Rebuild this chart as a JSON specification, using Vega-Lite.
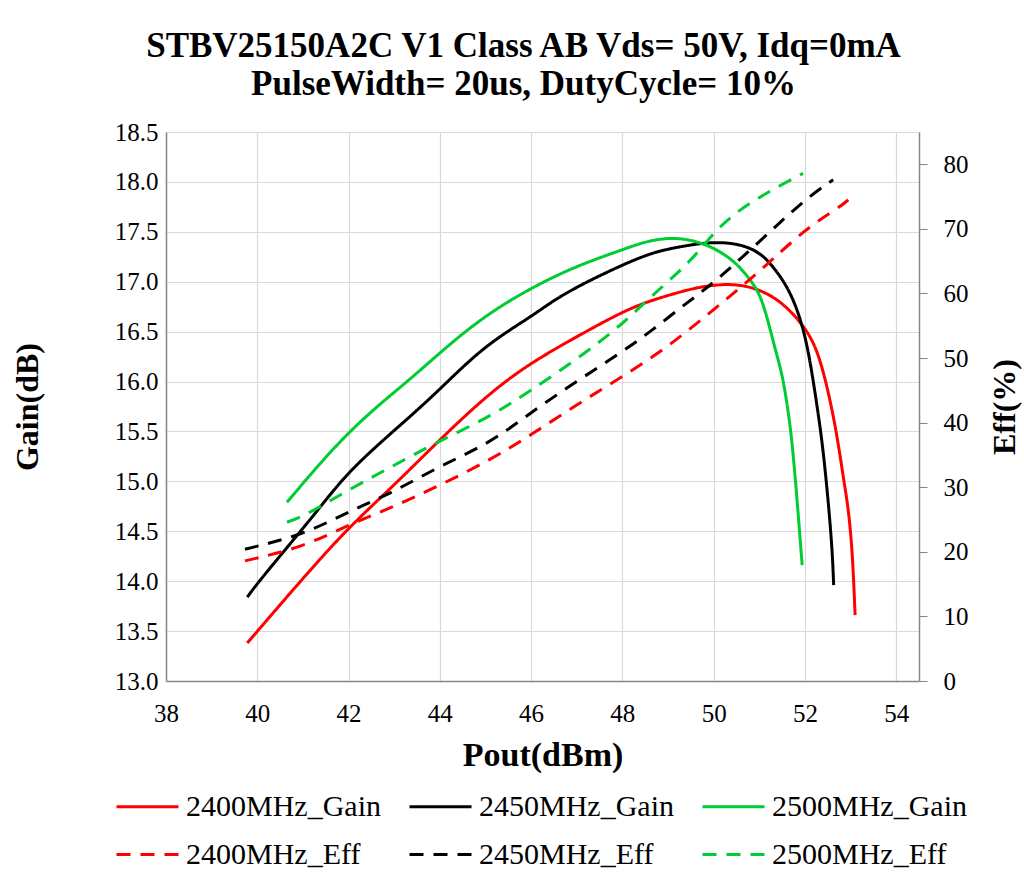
{
  "$schema": "https://vega.github.io/schema/vega-lite/v6.json",
  "width": 753,
  "height": 549,
  "autosize": {"type": "none"},
  "padding": {"left": 166, "top": 132, "right": 105, "bottom": 205},
  "background": "white",
  "title": {
    "text": ["STBV25150A2C V1 Class AB Vds= 50V, Idq=0mA", "PulseWidth= 20us, DutyCycle= 10%"],
    "font": "Liberation Serif",
    "fontSize": 35,
    "fontWeight": "bold",
    "color": "black",
    "anchor": "middle",
    "dx": -19,
    "offset": 18,
    "lineHeight": 38
  },
  "datasets": {
    "gain": [
      {"s": "2400MHz_Gain", "x": 39.78, "v": 13.38},
      {"s": "2400MHz_Gain", "x": 40.98, "v": 14.02},
      {"s": "2400MHz_Gain", "x": 42.0, "v": 14.54},
      {"s": "2400MHz_Gain", "x": 43.0, "v": 14.96},
      {"s": "2400MHz_Gain", "x": 44.0, "v": 15.42},
      {"s": "2400MHz_Gain", "x": 45.1, "v": 15.89},
      {"s": "2400MHz_Gain", "x": 46.0, "v": 16.19},
      {"s": "2400MHz_Gain", "x": 47.0, "v": 16.45},
      {"s": "2400MHz_Gain", "x": 48.0, "v": 16.70},
      {"s": "2400MHz_Gain", "x": 48.6, "v": 16.81},
      {"s": "2400MHz_Gain", "x": 49.5, "v": 16.93},
      {"s": "2400MHz_Gain", "x": 50.0, "v": 16.97},
      {"s": "2400MHz_Gain", "x": 50.65, "v": 16.98},
      {"s": "2400MHz_Gain", "x": 51.4, "v": 16.85},
      {"s": "2400MHz_Gain", "x": 52.0, "v": 16.55},
      {"s": "2400MHz_Gain", "x": 52.27, "v": 16.32},
      {"s": "2400MHz_Gain", "x": 52.49, "v": 15.95},
      {"s": "2400MHz_Gain", "x": 52.7, "v": 15.48},
      {"s": "2400MHz_Gain", "x": 52.84, "v": 15.04},
      {"s": "2400MHz_Gain", "x": 52.95, "v": 14.74},
      {"s": "2400MHz_Gain", "x": 53.04, "v": 14.31},
      {"s": "2400MHz_Gain", "x": 53.1, "v": 13.66},
      {"s": "2450MHz_Gain", "x": 39.78, "v": 13.84},
      {"s": "2450MHz_Gain", "x": 40.07, "v": 14.02},
      {"s": "2450MHz_Gain", "x": 41.3, "v": 14.69},
      {"s": "2450MHz_Gain", "x": 42.0, "v": 15.11},
      {"s": "2450MHz_Gain", "x": 43.28, "v": 15.62},
      {"s": "2450MHz_Gain", "x": 44.0, "v": 15.92},
      {"s": "2450MHz_Gain", "x": 44.95, "v": 16.35},
      {"s": "2450MHz_Gain", "x": 46.0, "v": 16.65},
      {"s": "2450MHz_Gain", "x": 46.42, "v": 16.79},
      {"s": "2450MHz_Gain", "x": 47.0, "v": 16.95},
      {"s": "2450MHz_Gain", "x": 48.0, "v": 17.17},
      {"s": "2450MHz_Gain", "x": 48.6, "v": 17.28},
      {"s": "2450MHz_Gain", "x": 49.0, "v": 17.33},
      {"s": "2450MHz_Gain", "x": 50.0, "v": 17.41},
      {"s": "2450MHz_Gain", "x": 50.65, "v": 17.37},
      {"s": "2450MHz_Gain", "x": 51.0, "v": 17.29},
      {"s": "2450MHz_Gain", "x": 51.24, "v": 17.19},
      {"s": "2450MHz_Gain", "x": 51.68, "v": 16.92},
      {"s": "2450MHz_Gain", "x": 52.0, "v": 16.5},
      {"s": "2450MHz_Gain", "x": 52.18, "v": 16.02},
      {"s": "2450MHz_Gain", "x": 52.31, "v": 15.62},
      {"s": "2450MHz_Gain", "x": 52.4, "v": 15.31},
      {"s": "2450MHz_Gain", "x": 52.51, "v": 14.81},
      {"s": "2450MHz_Gain", "x": 52.6, "v": 14.31},
      {"s": "2450MHz_Gain", "x": 52.63, "v": 13.96},
      {"s": "2500MHz_Gain", "x": 40.65, "v": 14.79},
      {"s": "2500MHz_Gain", "x": 42.0, "v": 15.52},
      {"s": "2500MHz_Gain", "x": 43.35, "v": 16.02},
      {"s": "2500MHz_Gain", "x": 44.0, "v": 16.29},
      {"s": "2500MHz_Gain", "x": 44.95, "v": 16.65},
      {"s": "2500MHz_Gain", "x": 46.0, "v": 16.94},
      {"s": "2500MHz_Gain", "x": 47.0, "v": 17.16},
      {"s": "2500MHz_Gain", "x": 48.0, "v": 17.32},
      {"s": "2500MHz_Gain", "x": 48.6, "v": 17.42},
      {"s": "2500MHz_Gain", "x": 49.3, "v": 17.45},
      {"s": "2500MHz_Gain", "x": 50.0, "v": 17.35},
      {"s": "2500MHz_Gain", "x": 50.5, "v": 17.19},
      {"s": "2500MHz_Gain", "x": 50.8, "v": 17.02},
      {"s": "2500MHz_Gain", "x": 51.0, "v": 16.89},
      {"s": "2500MHz_Gain", "x": 51.17, "v": 16.65},
      {"s": "2500MHz_Gain", "x": 51.35, "v": 16.32},
      {"s": "2500MHz_Gain", "x": 51.5, "v": 16.08},
      {"s": "2500MHz_Gain", "x": 51.62, "v": 15.75},
      {"s": "2500MHz_Gain", "x": 51.72, "v": 15.4},
      {"s": "2500MHz_Gain", "x": 51.83, "v": 14.81},
      {"s": "2500MHz_Gain", "x": 51.94, "v": 14.16}
    ],
    "eff": [
      {"s": "2400MHz_Eff", "x": 39.73, "v": 18.6},
      {"s": "2400MHz_Eff", "x": 41.0, "v": 20.7},
      {"s": "2400MHz_Eff", "x": 42.0, "v": 24.2},
      {"s": "2400MHz_Eff", "x": 43.0, "v": 27.0},
      {"s": "2400MHz_Eff", "x": 44.0, "v": 30.3},
      {"s": "2400MHz_Eff", "x": 45.1, "v": 34.2},
      {"s": "2400MHz_Eff", "x": 46.0, "v": 38.1},
      {"s": "2400MHz_Eff", "x": 47.0, "v": 42.8},
      {"s": "2400MHz_Eff", "x": 48.0, "v": 47.1},
      {"s": "2400MHz_Eff", "x": 49.0, "v": 51.7},
      {"s": "2400MHz_Eff", "x": 50.0, "v": 57.5},
      {"s": "2400MHz_Eff", "x": 51.0, "v": 63.3},
      {"s": "2400MHz_Eff", "x": 52.0, "v": 70.0},
      {"s": "2400MHz_Eff", "x": 52.77, "v": 73.4},
      {"s": "2400MHz_Eff", "x": 52.95, "v": 74.5},
      {"s": "2450MHz_Eff", "x": 39.73, "v": 20.4},
      {"s": "2450MHz_Eff", "x": 41.0, "v": 22.6},
      {"s": "2450MHz_Eff", "x": 42.0, "v": 26.2},
      {"s": "2450MHz_Eff", "x": 43.0, "v": 29.3},
      {"s": "2450MHz_Eff", "x": 44.0, "v": 33.3},
      {"s": "2450MHz_Eff", "x": 45.1, "v": 36.8},
      {"s": "2450MHz_Eff", "x": 46.0, "v": 41.6},
      {"s": "2450MHz_Eff", "x": 47.0, "v": 46.4},
      {"s": "2450MHz_Eff", "x": 48.0, "v": 51.0},
      {"s": "2450MHz_Eff", "x": 48.6, "v": 54.0},
      {"s": "2450MHz_Eff", "x": 49.4, "v": 58.5},
      {"s": "2450MHz_Eff", "x": 50.0, "v": 61.6},
      {"s": "2450MHz_Eff", "x": 51.0, "v": 68.0},
      {"s": "2450MHz_Eff", "x": 52.0, "v": 74.6},
      {"s": "2450MHz_Eff", "x": 52.62, "v": 77.6},
      {"s": "2500MHz_Eff", "x": 40.65, "v": 24.6},
      {"s": "2500MHz_Eff", "x": 41.0, "v": 25.4},
      {"s": "2500MHz_Eff", "x": 42.0, "v": 29.6},
      {"s": "2500MHz_Eff", "x": 43.0, "v": 33.4},
      {"s": "2500MHz_Eff", "x": 44.0, "v": 37.2},
      {"s": "2500MHz_Eff", "x": 45.1, "v": 40.9},
      {"s": "2500MHz_Eff", "x": 46.0, "v": 45.0},
      {"s": "2500MHz_Eff", "x": 47.0, "v": 49.8},
      {"s": "2500MHz_Eff", "x": 48.0, "v": 55.2},
      {"s": "2500MHz_Eff", "x": 48.6, "v": 59.4},
      {"s": "2500MHz_Eff", "x": 49.5, "v": 64.9},
      {"s": "2500MHz_Eff", "x": 50.0, "v": 69.5},
      {"s": "2500MHz_Eff", "x": 50.5, "v": 72.6},
      {"s": "2500MHz_Eff", "x": 51.0, "v": 74.9},
      {"s": "2500MHz_Eff", "x": 51.4, "v": 76.5},
      {"s": "2500MHz_Eff", "x": 51.96, "v": 78.6}
    ]
  },
  "config": {
    "view": {"stroke": null},
    "font": "Liberation Serif",
    "axis": {
      "labelFont": "Liberation Serif",
      "titleFont": "Liberation Serif",
      "labelColor": "black",
      "titleColor": "black",
      "labelFontSize": 25,
      "titleFontSize": 32,
      "titleFontWeight": "bold",
      "domainColor": "#868686",
      "domainWidth": 1.5,
      "gridColor": "#d9d9d9",
      "gridWidth": 1.2,
      "tickColor": "#868686"
    },
    "legend": {
      "orient": "none",
      "legendX": -51,
      "legendY": 642,
      "direction": "horizontal",
      "columns": 3,
      "columnPadding": 22,
      "rowPadding": -3,
      "symbolType": "stroke",
      "symbolSize": 3844,
      "symbolStrokeWidth": 3,
      "labelFont": "Liberation Serif",
      "labelFontSize": 30,
      "labelColor": "black",
      "labelOffset": 6,
      "labelLimit": 400,
      "title": null
    }
  },
  "encoding": {
    "x": {
      "field": "x",
      "type": "quantitative",
      "title": "Pout(dBm)",
      "scale": {"domain": [38, 54.5], "nice": false, "zero": false},
      "axis": {
        "values": [38, 40, 42, 44, 46, 48, 50, 52, 54],
        "tickSize": 0,
        "labelFlush": false,
        "labelPadding": 20,
        "titlePadding": 12,
        "titleFontSize": 34
      }
    },
    "color": {
      "field": "s",
      "type": "nominal",
      "scale": {
        "domain": ["2400MHz_Gain", "2450MHz_Gain", "2500MHz_Gain", "2400MHz_Eff", "2450MHz_Eff", "2500MHz_Eff"],
        "range": ["#ff0000", "#000000", "#00cc33", "#ff0000", "#000000", "#00cc33"]
      },
      "legend": {"title": null}
    },
    "strokeDash": {
      "field": "s",
      "type": "nominal",
      "scale": {
        "domain": ["2400MHz_Gain", "2450MHz_Gain", "2500MHz_Gain", "2400MHz_Eff", "2450MHz_Eff", "2500MHz_Eff"],
        "range": [[1, 0], [1, 0], [1, 0], [14, 10], [14, 10], [14, 10]]
      },
      "legend": {"title": null}
    }
  },
  "layer": [
    {
      "data": {"name": "gain"},
      "mark": {"type": "line", "strokeWidth": 3, "interpolate": "basis"},
      "encoding": {
        "y": {
          "field": "v",
          "type": "quantitative",
          "title": "Gain(dB)",
          "scale": {"domain": [13, 18.5], "nice": false, "zero": false},
          "axis": {
            "values": [13, 13.5, 14, 14.5, 15, 15.5, 16, 16.5, 17, 17.5, 18, 18.5],
            "format": ".1f",
            "tickSize": 0,
            "labelPadding": 8,
            "titlePadding": 70
          }
        }
      }
    },
    {
      "data": {"name": "eff"},
      "mark": {"type": "line", "strokeWidth": 3, "interpolate": "basis"},
      "encoding": {
        "y": {
          "field": "v",
          "type": "quantitative",
          "title": "Eff(%)",
          "scale": {"domain": [0, 85], "nice": false},
          "axis": {
            "orient": "right",
            "values": [0, 10, 20, 30, 40, 50, 60, 70, 80],
            "grid": false,
            "tickSize": 8,
            "labelPadding": 16,
            "titleAngle": 270,
            "titlePadding": 53
          }
        }
      }
    }
  ],
  "resolve": {"scale": {"y": "independent"}}
}
